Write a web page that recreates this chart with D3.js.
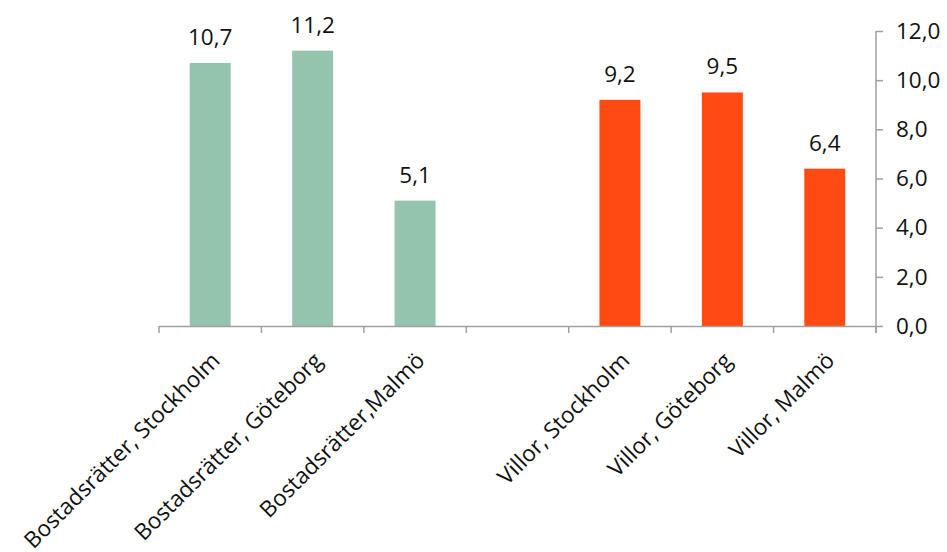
<!DOCTYPE html>
<html>
<head>
<meta charset="utf-8">
<script src="https://cdn.jsdelivr.net/npm/d3@7"></script>
<style>
    body { margin: 0; background: #fff; }
    text { font-family: "Open Sans", sans-serif; fill: #111; }
</style>
</head>
<body>
<script>
const width = 947;
const height = 552;

// data
const categories = [
    "Bostadsrätter, Stockholm",
    "Bostadsrätter, Göteborg",
    "Bostadsrätter,Malmö",
    "",
    "Villor, Stockholm",
    "Villor, Göteborg",
    "Villor, Malmö",
];
const values = [10.7, 11.2, 5.1, null, 9.2, 9.5, 6.4];
const barColours = ["#94c4ae", "#94c4ae", "#94c4ae", null, "#ff4a12", "#ff4a12", "#ff4a12"];
const yTicks = [0, 2, 4, 6, 8, 10, 12];

const margin = { top: 31, right: 71, bottom: 226, left: 159 };
const fontSize = 22.5;

const svg = d3
    .select("body")
    .append("svg")
    .attr("width", width)
    .attr("height", height);

const x = d3
    .scaleBand()
    .domain(d3.range(categories.length))
    .range([margin.left, width - margin.right])
    .paddingInner(0.6)
    .paddingOuter(0.3);

const y = d3
    .scaleLinear()
    .domain([0, 12])
    .range([height - margin.bottom, margin.top]);

const step = x.step();
const slotStart = (i) => x(i) - step * 0.3;
const comma = (v) => d3.format(".1f")(v).replace(".", ",");

// bars
const data = categories.map((c, i) => ({ i, c, v: values[i], col: barColours[i] }))
    .filter((d) => d.v != null);

svg.selectAll(".bar")
    .data(data)
    .enter()
    .append("rect")
    .attr("class", "bar")
    .attr("x", (d) => x(d.i))
    .attr("y", (d) => y(d.v))
    .attr("width", x.bandwidth())
    .attr("height", (d) => y(0) - y(d.v))
    .attr("fill", (d) => d.col);

// value labels
svg.selectAll(".val")
    .data(data)
    .enter()
    .append("text")
    .attr("class", "val")
    .attr("x", (d) => x(d.i) + x.bandwidth() / 2)
    .attr("y", (d) => y(d.v) - 18)
    .attr("text-anchor", "middle")
    .attr("font-size", fontSize)
    .text((d) => comma(d.v));

// x axis line + ticks at slot boundaries
const axisColour = "#a0a0a0";
svg.append("line")
    .attr("x1", slotStart(0))
    .attr("x2", width - margin.right)
    .attr("y1", y(0) + 0.5)
    .attr("y2", y(0) + 0.5)
    .attr("stroke", axisColour)
    .attr("stroke-width", 1.5);

svg.selectAll(".xtick")
    .data(d3.range(categories.length + 1))
    .enter()
    .append("line")
    .attr("class", "xtick")
    .attr("x1", (i) => slotStart(0) + i * step)
    .attr("x2", (i) => slotStart(0) + i * step)
    .attr("y1", y(0))
    .attr("y2", y(0) + 7)
    .attr("stroke", axisColour)
    .attr("stroke-width", 1.5);

// x labels, rotated
svg.selectAll(".xlab")
    .data(categories.map((c, i) => ({ c, i })).filter((d) => d.c !== ""))
    .enter()
    .append("text")
    .attr("class", "xlab")
    .attr("transform", (d) => `translate(${x(d.i) + x.bandwidth() / 2 + 11}, ${y(0) + 36}) rotate(-45)`)
    .attr("text-anchor", "end")
    .attr("font-size", fontSize)
    .text((d) => d.c);

// y axis on the right
const yAxis = svg
    .append("g")
    .attr("transform", `translate(${width - margin.right}, 0)`)
    .call(
        d3.axisRight(y)
            .tickValues(yTicks)
            .tickSize(7)
            .tickPadding(13)
            .tickFormat(comma)
    );

yAxis.select(".domain").attr("stroke", axisColour).attr("stroke-width", 1.5)
    .attr("d", `M0,${y(12)}V${y(0) + 7}`);
yAxis.selectAll(".tick line").attr("stroke", axisColour).attr("stroke-width", 1.5);
yAxis.selectAll(".tick text")
    .attr("font-size", fontSize)
    .attr("font-family", "Open Sans, sans-serif")
    .attr("fill", "#111");
</script>
</body>
</html>
